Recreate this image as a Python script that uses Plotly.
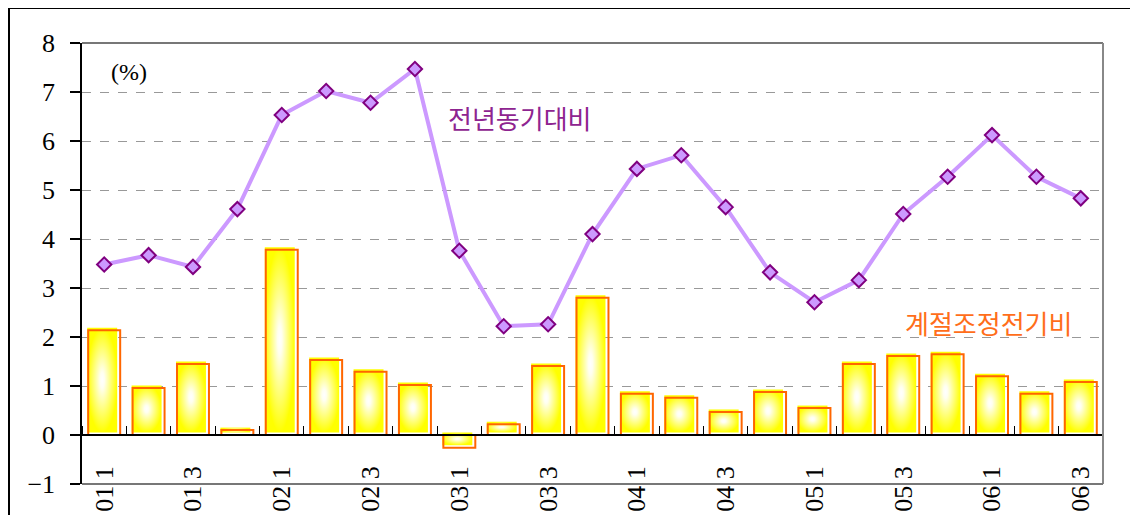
import plotly.graph_objects as go

# ---- data ----
categories = ['01 1', '01 2', '01 3', '01 4',
              '02 1', '02 2', '02 3', '02 4',
              '03 1', '03 2', '03 3', '03 4',
              '04 1', '04 2', '04 3', '04 4',
              '05 1', '05 2', '05 3', '05 4',
              '06 1', '06 2', '06 3']
yoy = [3.48, 3.67, 3.43, 4.61, 6.53, 7.02, 6.78, 7.47,
       3.76, 2.22, 2.26, 4.10, 5.43, 5.71, 4.65, 3.32,
       2.71, 3.16, 4.51, 5.27, 6.12, 5.27, 4.83]
qoq = [2.14, 0.96, 1.45, 0.10, 3.78, 1.53, 1.29, 1.02,
       -0.26, 0.22, 1.41, 2.80, 0.84, 0.76, 0.47, 0.88,
       0.55, 1.45, 1.61, 1.65, 1.20, 0.84, 1.08]
tick_labels = ['01 1', '', '01 3', '', '02 1', '', '02 3', '',
               '03 1', '', '03 3', '', '04 1', '', '04 3', '',
               '05 1', '', '05 3', '', '06 1', '', '06 3']
label_yoy = '전년동기대비'
label_qoq = '계절조정전기비'
unit_label = '(%)'

# ---- styling ----
OFF = 8                      # page body margin
W, H = 1138 - OFF, 515 - OFF
ML, MT = 82 - OFF, 43 - OFF
MR = W - (1103 - OFF)
MB = H - (484 - OFF)
PW, PH = W - ML - MR, H - MT - MB
YMIN, YMAX = -1, 8
n = len(categories)
xs = list(range(n))
px_x = PW / n              # pixels per category
px_y = PH / (YMAX - YMIN)  # pixels per unit
bw = 0.72                  # bar width (category units)


def px(xs_):  # screen x -> paper x
    return (xs_ - OFF - ML) / PW


def py(ys_):  # screen y -> paper y
    return (H - MB - (ys_ - OFF)) / PH


fig = go.Figure()

# gradient fills (shifted slightly up-left, like the reference)
dxl = -1.0 / px_x
dxr = -3.0 / px_x
dy = 2.5 / px_y
for x, v in zip(xs, qoq):
    x0 = x - bw / 2 + dxl
    x1 = x + bw / 2 + dxr
    y0 = 0 + dy
    y1 = v + dy
    fig.add_trace(go.Scatter(
        x=[x0, x1, x1, x0, x0], y=[y0, y0, y1, y1, y0],
        mode='lines', line=dict(width=0), fill='toself',
        fillgradient=dict(type='radial',
                          colorscale=[[0, '#FFFFFF'], [0.15, '#FFFFF0'], [1, '#FFFF00']]),
        hoverinfo='skip', showlegend=False))

# bar outlines
ox, oy = [], []
for x, v in zip(xs, qoq):
    x0 = x - bw / 2
    x1 = x + bw / 2
    ox += [x0, x1, x1, x0, x0, None]
    oy += [0, 0, v, v, 0, None]
fig.add_trace(go.Scatter(x=ox, y=oy, mode='lines',
                         line=dict(color='#FF6600', width=2),
                         hoverinfo='skip', showlegend=False))

# year-on-year line
fig.add_trace(go.Scatter(
    x=xs, y=yoy, mode='lines+markers',
    line=dict(color='#CC99FF', width=4),
    marker=dict(symbol='diamond', size=11, color='#CC99FF',
                line=dict(color='#800080', width=2)),
    showlegend=False))

serif = 'Liberation Serif'

fig.update_layout(
    width=W, height=H,
    margin=dict(l=ML, r=MR, t=MT, b=MB, pad=0),
    paper_bgcolor='white', plot_bgcolor='white',
    showlegend=False,
    xaxis=dict(
        range=[-0.5, n - 0.5],
        anchor='free', position=(0 - YMIN) / (YMAX - YMIN),
        tickmode='array', tickvals=xs, ticktext=tick_labels,
        tickangle=-90, ticks='', ticklabelstandoff=20,
        tickfont=dict(family=serif, size=26, color='black'),
        showline=True, linecolor='black', linewidth=1.5,
        showgrid=False, zeroline=False, automargin=False,
        minor=dict(tickmode='array', tickvals=[x - 0.5 for x in xs] + [n - 0.5],
                   ticks='inside', ticklen=8, tickcolor='black', tickwidth=1),
    ),
    yaxis=dict(
        range=[YMIN, YMAX], dtick=1, tick0=0,
        ticks='outside', ticklen=10, tickcolor='black', tickwidth=1.5,
        ticklabelstandoff=10,
        tickfont=dict(family=serif, size=26, color='black'),
        showline=True, linecolor='black', linewidth=1.5,
        showgrid=True, gridcolor='#999999', griddash='dash', gridwidth=1,
        zeroline=False, automargin=False,
    ),
    shapes=[
        # plot frame (top, right, bottom)
        dict(type='line', xref='paper', yref='paper', x0=0, x1=1, y0=1, y1=1,
             line=dict(color='#777777', width=2)),
        dict(type='line', xref='paper', yref='paper', x0=1, x1=1, y0=0, y1=1,
             line=dict(color='#888888', width=2)),
        dict(type='line', xref='paper', yref='paper', x0=0, x1=1, y0=0, y1=0,
             line=dict(color='#777777', width=2)),
        # outer chart border
        dict(type='rect', xref='paper', yref='paper',
             x0=px(9), x1=1.2, y0=-0.3, y1=py(8),
             line=dict(color='black', width=2), layer='below'),
    ],
    annotations=[
        dict(text=unit_label, xref='paper', yref='paper',
             x=px(129), y=py(72), xanchor='center', yanchor='middle',
             showarrow=False,
             font=dict(family=serif, size=24, color='black')),
        dict(text=label_yoy, xref='paper', yref='paper',
             x=px(520), y=py(117), xanchor='center', yanchor='middle',
             showarrow=False,
             font=dict(family='Noto Sans CJK KR', size=26, color='#8E2490')),
        dict(text=label_qoq, xref='paper', yref='paper',
             x=px(988), y=py(322), xanchor='center', yanchor='middle',
             showarrow=False,
             font=dict(family='Noto Sans CJK KR', size=26, color='#FF6E1A')),
    ],
)

fig.write_html('out.html')
